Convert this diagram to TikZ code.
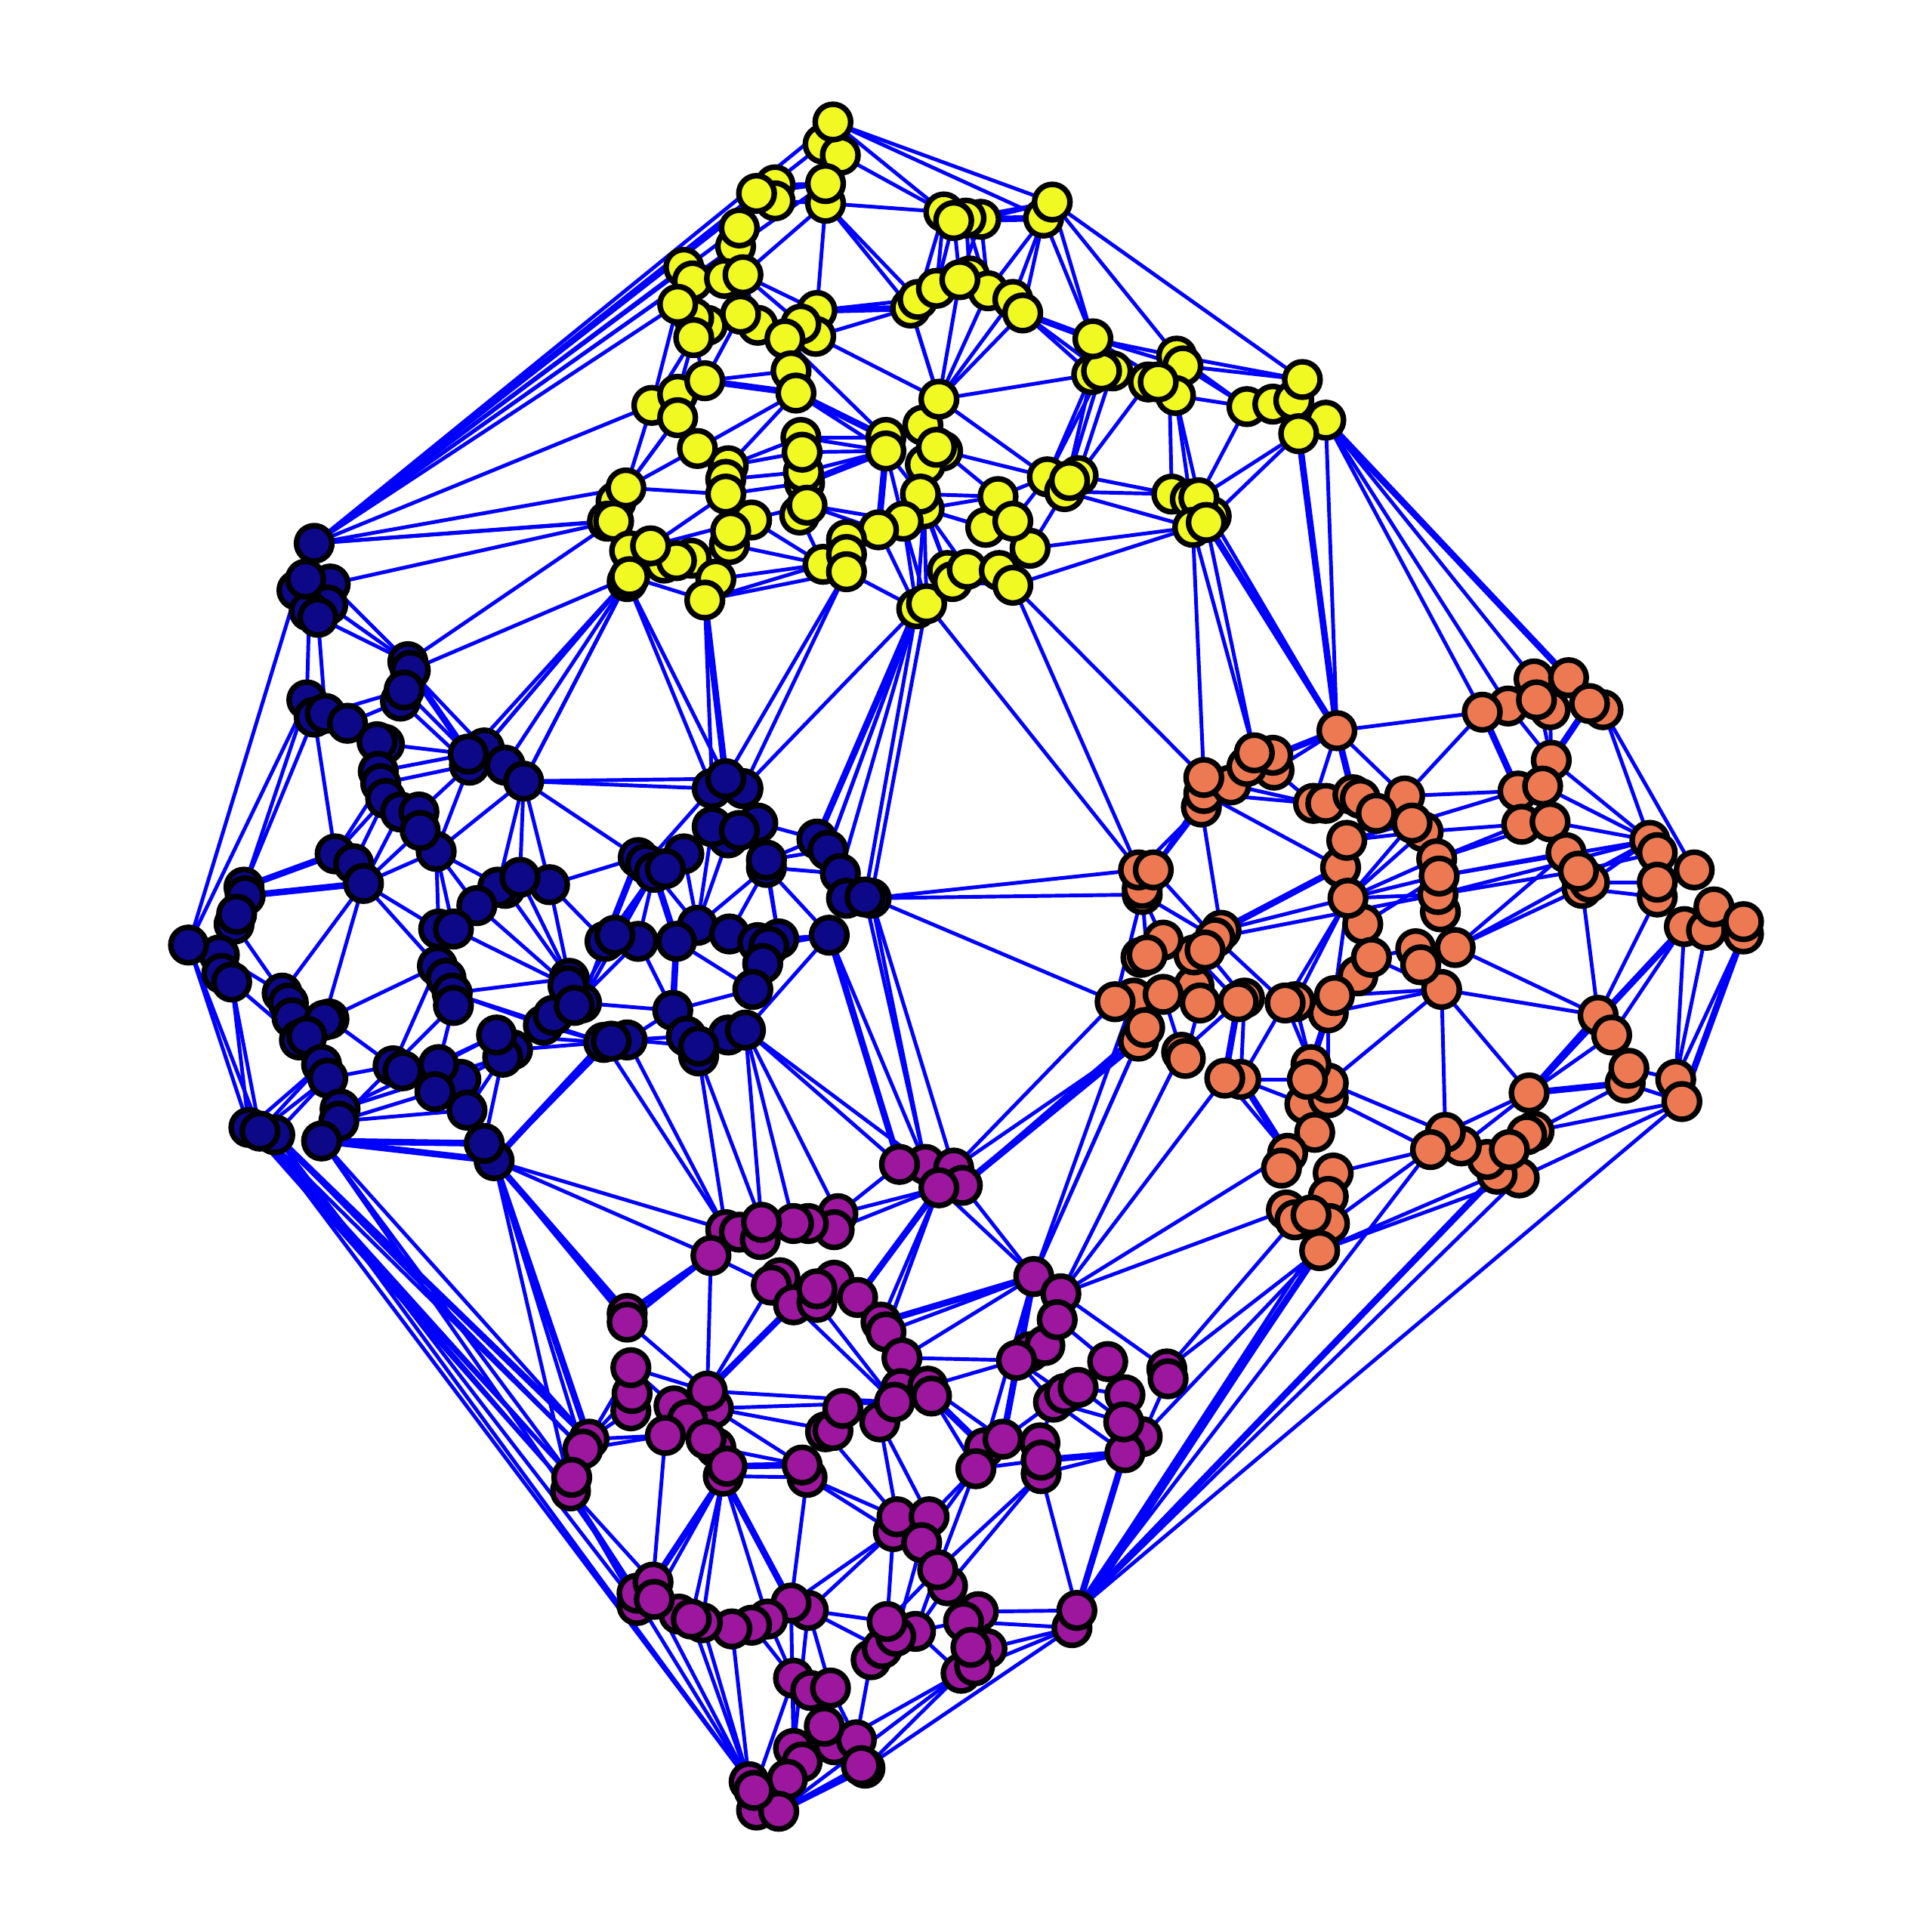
\documentclass[tikz,border=0pt]{standalone}
\pgfdeclarelayer{bg}\pgfsetlayers{bg,main}
\definecolor{cy}{RGB}{240,249,33}
\definecolor{cn}{RGB}{13,8,135}
\definecolor{cp}{RGB}{156,23,158}
\definecolor{co}{RGB}{237,121,83}
\tikzset{
 vtx/.style={circle,draw=black,line width=6.4pt,inner sep=0pt,outer sep=0pt,minimum size=1.44cm},
 vy/.style={vtx,fill=cy},vn/.style={vtx,fill=cn},vp/.style={vtx,fill=cp},vo/.style={vtx,fill=co},
 ed/.style={draw={rgb,255:red,0;green,0;blue,255},line width=4.3pt},
 edfat/.style={ed,line width=7.5pt}}
\newcommand\fan[2]{\foreach \t in {#2}{\draw[ed] (#1)--(\t);}}
\newcommand\fat[2]{\foreach \t in {#2}{\draw[edfat] (#1)--(\t);}}
\begin{document}
\begin{tikzpicture}[x=0.05cm,y=-0.05cm]
\path[use as bounding box] (0,0) rectangle (1568,1568);
\foreach \x/\y in {668/117,682/126,670/165,670/149,676/99,629/150,629/163,614/157,597/200,600/185,555/217,562/228,588/226,603/223,574/264,563/258,563/274,550/247,615/264,601/255,663/252,662/273,650/263,637/275,642/301,646/319,529/329,550/320,572/309,550/339,566/364,591/378,589/389,589/401,610/422,592/442,593/431,650/355,653/392,652/383,651/367,649/418,655/410,719/355,719/366,749/345,765/366,751/377,760/363,762/324,750/413,747/401,733/423,713/430,668/458,687/438,687/450,687/464,500/407,493/423,498/423,508/396,511/447,539/457,561/453,549/455,528/443,509/472,511/468,581/470,572/487,744/494,752/490,769/463,773/472,785/462,811/463,822/475,836/445,800/428,810/403,822/423,850/387,864/399,875/386,868/390,951/401,966/405,983/419,973/404,968/428,979/424,886/304,903/301,894/301,887/275,932/310,949/313,955/289,960/297,954/321,940/310,1012/330,1033/328,1050/325,1076/341,1054/352,1057/308,739/250,745/243,760/234,787/224,802/236,779/227,822/243,830/254,766/172,796/178,784/177,774/179,847/177,854/164}
 \node[vy] (\x x\y) at (\x,\y) {};
\foreach \x/\y in {241/479,268/474,266/491,251/496,258/501,248/470,255/441,331/537,333/544,325/569,328/560,249/568,255/582,264/579,282/587,312/604,306/602,307/626,309/636,313/648,325/659,340/659,354/691,341/674,272/693,287/701,295/717,393/607,381/621,380/612,410/621,425/634,446/718,410/721,404/720,422/712,387/735,356/754,368/754,355/784,362/794,367/806,368/816,416/852,408/858,403/840,441/832,449/824,472/814,462/794,461/800,466/816,491/764,518/764,499/759,566/751,549/764,592/758,546/820,557/841,591/840,605/836,567/857,567/849,490/846,509/844,496/845,518/696,524/701,555/693,531/708,540/705,198/720,199/727,190/750,192/742,178/775,153/767,180/790,188/797,229/806,234/814,237/826,267/827,263/828,243/844,249/841,261/864,266/875,276/900,275/910,261/926,223/921,202/915,211/918,319/865,327/869,374/876,356/864,353/886,379/901,401/942,393/928,603/640,578/640,589/632,591/680,615/668,578/671,600/674,622/704,622/698,663/681,672/690,682/709,687/729,707/729,702/728,673/759,615/765,632/762,624/768,619/782,611/803}
 \node[vn] (\x x\y) at (\x,\y) {};
\foreach \x/\y in {751/945,730/945,774/948,781/962,762/964,680/985,677/998,656/993,644/993,589/998,600/1000,617/1006,618/992,577/1019,633/1037,626/1043,644/1059,677/1039,663/1057,663/1046,696/1053,715/1073,719/1081,732/1102,509/1066,509/1073,512/1145,513/1131,512/1110,547/1141,579/1143,574/1129,558/1152,581/1175,573/1168,540/1165,587/1198,590/1190,655/1199,651/1189,670/1162,676/1161,684/1143,714/1154,731/1127,753/1125,756/1133,726/1138,839/1036,861/1050,836/1097,848/1092,858/1071,825/1104,899/1105,855/1138,864/1131,875/1126,913/1132,927/1166,913/1179,912/1154,947/1111,948/1119,799/1175,792/1192,814/1168,844/1171,845/1196,845/1185,478/1168,473/1176,463/1210,464/1199,725/1243,728/1231,754/1231,748/1252,769/1287,761/1274,794/1308,782/1316,801/1338,780/1358,791/1352,788/1337,870/1321,874/1307,707/1347,716/1338,743/1324,727/1328,720/1316,656/1307,642/1301,623/1314,610/1319,594/1322,570/1317,551/1310,561/1314,517/1303,517/1293,530/1284,531/1298,644/1362,658/1372,674/1370,677/1416,695/1412,669/1401,644/1419,651/1430,702/1435,699/1433,639/1444,614/1469,632/1470,608/1446,612/1453}
 \node[vp] (\x x\y) at (\x,\y) {};
\foreach \x/\y in {1085/593,1224/573,1203/578,1245/551,1273/550,1258/576,1247/568,1301/576,1290/571,1259/617,1232/642,1235/669,1252/638,1258/667,1271/692,1284/721,1290/716,1281/707,1339/682,1345/692,1345/728,1345/716,1375/706,1367/752,1385/755,1391/736,1415/758,1415/748,1297/824,1308/840,1319/879,1322/867,1360/876,1365/894,1241/887,1245/918,1239/921,1233/956,1215/953,1207/941,1186/930,1173/919,1161/933,1225/933,975/655,977/644,999/637,1034/625,1033/613,1012/622,1018/611,977/631,1066/652,1076/652,1098/645,1140/646,1104/648,1117/660,1155/675,1146/668,1088/704,1093/682,1166/697,1169/740,1167/726,1168/711,1106/750,1094/729,1102/792,1113/777,1149/770,1170/803,1153/783,1181/769,1078/822,1083/808,1051/813,1043/814,1010/810,1005/813,920/810,969/800,974/814,924/845,929/834,944/807,905/813,959/854,962/859,1007/876,994/875,1059/896,1078/891,1078/879,1064/864,1061/876,1067/919,1045/936,1040/948,1082/952,1078/971,1044/982,1051/990,1079/993,1064/986,1071/1015,991/755,986/761,969/775,978/771,944/763,926/777,931/775,927/726,927/721,924/706,936/706}
 \node[vo] (\x x\y) at (\x,\y) {};
\begin{pgfonlayer}{bg}
% top fan
\fan{255x441}{676x99,668x117,670x149,629x150,614x157,600x185,597x200,555x217,550x247,529x329,508x396,493x423,498x423}
\fan{268x474}{498x423}\fan{331x537}{498x423}\fan{333x544}{511x468}
\fan{511x468}{380x612,393x607,410x621,425x634,381x621}\fan{509x472}{425x634,578x640,589x632}
\fan{676x99}{766x172,854x164,847x177}\fan{682x126}{766x172}
\fan{670x165}{766x172,629x163,603x223,663x252,739x250,745x243}\fan{670x149}{629x150,614x157}
\fan{766x172}{745x243,760x234}\fan{774x179}{779x227,760x234}\fan{784x177}{787x224,802x236}\fan{796x178}{802x236,779x227,847x177}
\fan{854x164}{784x177,796x178,887x275,955x289,1057x308}
\fan{847x177}{774x179,796x178,802x236,822x243,830x254,887x275}
\fan{830x254}{887x275,894x301,886x304}
\fan{887x275}{955x289,960x297,949x313}\fan{894x301}{932x310}\fan{903x301}{940x310}
\fan{762x324}{886x304,850x387,739x250,779x227,802x236,822x243,830x254,662x273}
\fan{955x289}{1057x308,1012x330}\fan{960x297}{1057x308,1012x330}\fan{954x321}{1012x330,966x405,973x404}
\fan{1012x330}{973x404}\fan{1054x352}{973x404,979x424,1085x593}\fan{949x313}{951x401}
\fan{932x310}{875x386}\fan{886x304}{850x387,864x399}\fan{894x301}{864x399,850x387}\fan{903x301}{875x386}
\fan{875x386}{951x401}\fan{864x399}{951x401,968x428}\fan{836x445}{968x428,864x399}\fan{822x475}{968x428,773x472,924x706,977x631}
\fan{765x366}{850x387,810x403}\fan{747x401}{810x403}\fan{750x413}{810x403,800x428,744x494,752x490,769x463,773x472,785x462}
\fan{810x403}{850x387}\fan{822x423}{850x387}
\fan{752x490}{924x706}\fan{968x428}{977x631,1018x611}\fan{979x424}{1018x611,1085x593}\fan{983x419}{1085x593}
\fan{1076x341}{1085x593,1203x578,1245x551,1273x550,1224x573}
% upper yellow
\fan{550x247}{529x329}\fan{563x274}{529x329,550x320,572x309}\fan{601x255}{572x309}
\fan{603x223}{663x252,650x263,615x264}
\fan{572x309}{642x301,646x319}\fan{529x329}{508x396}\fan{550x339}{508x396,500x407}\fan{566x364}{508x396,646x319}
\fan{591x378}{646x319,650x355,651x367}\fan{589x389}{652x383}\fan{589x401}{653x392,508x396,528x443}
\fan{646x319}{719x355,719x366}\fan{637x275}{719x355}\fan{662x273}{739x250}\fan{663x252}{739x250,745x243}
\fan{739x250}{762x324}
\fan{650x355}{719x366,719x355}\fan{651x367}{719x366}\fan{652x383}{719x366}\fan{653x392}{719x366}
\fan{719x366}{747x401,713x430,733x423}\fan{655x410}{713x430,528x443,733x423}\fan{649x418}{668x458}
\fan{592x442}{668x458}\fan{610x422}{668x458}\fan{581x470}{668x458}\fan{572x487}{687x464,668x458,511x468,578x640,589x632}
\fan{498x423}{528x443}\fan{687x464}{744x494,589x632,603x640}\fan{733x423}{744x494,752x490}\fan{713x430}{744x494}
\fan{747x401}{769x463}\fan{811x463}{785x462}\fan{744x494}{769x463,603x640,663x681,672x690,682x709}
\fan{800x428}{750x413}\fan{752x490}{707x729}
% navy-yellow down
\fan{663x681}{744x494}\fan{672x690}{744x494}\fan{702x728}{744x494}
\fan{425x634}{589x632,578x640,518x696,354x691,404x720,422x712,446x718}
\fan{446x718}{518x696,491x764,462x794}\fan{524x701}{578x640}\fan{578x671}{566x751,555x693}\fan{591x680}{566x751}
\fan{566x751}{622x704}\fan{592x758}{622x704}\fan{632x762}{622x698,622x704}\fan{622x704}{673x759,682x709}\fan{622x698}{663x681,672x690}
\fan{615x668}{663x681}\fan{555x693}{566x751}\fan{531x708}{566x751,549x764,491x764}\fan{518x696}{491x764}\fan{499x759}{531x708}\fan{518x764}{531x708}
\fan{472x814}{491x764,546x820,531x708}\fan{466x816}{518x764,499x759}
\fan{518x764}{546x820}\fan{549x764}{546x820,611x803}\fan{546x820}{611x803,509x844}\fan{509x844}{557x841,567x849}
\fan{441x832}{490x846,367x806}\fan{403x840}{490x846}\fan{416x852}{490x846}
\fan{624x768}{673x759}\fan{632x762}{673x759}\fan{605x836}{673x759,730x945,680x985,618x992,644x993,751x945}
\fan{673x759}{730x945,751x945}\fan{707x729}{751x945,774x948,924x706,927x726,905x813}\fan{702x728}{751x945}
\fan{567x857}{589x998,618x992}\fan{490x846}{589x998,401x942,367x806}\fan{509x844}{589x998}\fan{496x845}{401x942}
\fan{401x942}{589x998,577x1019,509x1066,509x1073,478x1168,473x1176,463x1210}
\fan{774x948}{905x813,924x845}\fan{781x962}{924x845,929x834,839x1036}\fan{762x964}{839x1036,680x985,677x998,696x1053,715x1073,719x1081}
\fan{680x985}{730x945}
% right
\fan{839x1036}{920x810,929x834,924x845}\fan{861x1050}{959x854,994x875,1045x936,1044x982}
\fan{1085x593}{1203x578,1012x622,1034x625,1066x652,1098x645,1140x646}
\fan{1203x578}{1140x646,1232x642}\fan{1224x573}{1259x617}\fan{1245x551}{1259x617}\fan{1258x576}{1259x617}\fan{1290x571}{1259x617}
\fan{1301x576}{1339x682,1375x706}\fan{1140x646}{1232x642}\fan{1146x668}{1232x642,1093x682}\fan{1155x675}{1235x669}\fan{1166x697}{1235x669,1258x667,1094x729}
\fan{1259x617}{1339x682}\fan{1252x638}{1339x682}\fan{1258x667}{1339x682}
\fan{1168x711}{1339x682,1271x692,1106x750,1094x729}\fan{1167x726}{1339x682,1281x707,1094x729}\fan{1181x769}{1339x682,1284x721,1271x692,1297x824}
\fan{1281x707}{1345x692}\fan{1284x721}{1339x682,1345x728}\fan{1290x716}{1345x716}\fan{1284x721}{1297x824}
\fan{1170x803}{1297x824,1173x919,1241x887,1078x879,1083x808,1078x822,1113x777}
\fan{1297x824}{1345x728,1241x887}\fan{1241x887}{1367x752,1319x879,1173x919,1186x930}\fan{1308x840}{1367x752,1241x887}
\fan{1360x876}{1367x752,1385x755,1415x758}\fan{1365x894}{1415x758,1245x918,1233x956,1319x879}\fan{1322x867}{1360x876}
\fan{1245x918}{1319x879}\fan{1071x1015}{1215x953,1233x956}\fan{1079x993}{1161x933}\fan{1082x952}{1161x933}
\fan{1078x879}{1173x919}\fan{1078x891}{1161x933}\fan{1007x876}{1061x876,1059x896,1045x936,1043x814}\fan{994x875}{1045x936}
\fan{1113x777}{1149x770}\fan{1094x729}{1146x668,1155x675}
\fan{986x761}{1167x726,936x706,927x726,1043x814}\fan{991x755}{1094x729,1088x704,975x655}\fan{977x644}{1088x704,1066x652,936x706}\fan{999x637}{1066x652}\fan{1034x625}{1066x652}
\fan{975x655}{936x706,924x706}\fan{927x726}{905x813,931x775,944x763}
\fan{969x775}{1005x813}\fan{978x771}{1010x810}\fan{1051x813}{1094x729,1064x864}\fan{1083x808}{1094x729}\fan{1043x814}{1094x729,1064x864}
\fan{1005x813}{994x875,959x854}\fan{1010x810}{1007x876}\fan{1078x822}{1064x864,1078x879}\fan{944x807}{959x854}\fan{974x814}{962x859}
\fan{1093x682}{1155x675}\fan{1345x716}{1290x716}
% purple
\fan{577x1019}{626x1043,574x1129,509x1066,509x1073}\fan{626x1043}{574x1129}\fan{644x1059}{574x1129,726x1138}\fan{663x1057}{726x1138}\fan{715x1073}{726x1138,839x1036}\fan{719x1081}{726x1138,839x1036,762x964}
\fan{696x1053}{762x964}\fan{732x1102}{839x1036,825x1104}\fan{753x1125}{825x1104,814x1168}
\fan{839x1036}{814x1168,799x1175}\fan{861x1050}{947x1111}\fan{858x1071}{899x1105}\fan{825x1104}{855x1138,864x1131}\fan{814x1168}{855x1138,844x1171}\fan{844x1171}{855x1138}
\fan{855x1138}{913x1179,912x1154}\fan{875x1126}{913x1132,912x1154}\fan{927x1166}{948x1119,1071x1015}\fan{947x1111}{1071x1015,1051x990}
\fan{845x1185}{913x1179}\fan{845x1196}{913x1179,874x1307,769x1287,761x1274}\fan{913x1179}{874x1307,870x1321}
\fan{792x1192}{748x1252,761x1274,754x1231,845x1185}\fan{874x1307}{794x1308,1161x933,1071x1015,1079x993,1365x894,1215x953,1233x956}
\fan{870x1321}{782x1316,801x1338,780x1358,702x1435,1071x1015}\fan{702x1435}{780x1358}\fan{677x1416}{780x1358}
\fan{632x1470}{702x1435,699x1433,780x1358}\fan{743x1324}{780x1358,782x1316,761x1274,769x1287}\fan{720x1316}{761x1274,725x1243}\fan{727x1328}{748x1252}
\fan{656x1307}{720x1316,716x1338,725x1243,644x1419,674x1370}\fan{642x1301}{725x1243,655x1199,644x1419}
\fan{655x1199}{728x1231,725x1243,587x1198}\fan{587x1198}{642x1301,623x1314,570x1317,561x1314,531x1298,530x1284}\fan{540x1165}{530x1284,478x1168,473x1176}
\fan{590x1190}{651x1189}\fan{574x1129}{726x1138,509x1073,512x1110}\fan{579x1143}{726x1138,676x1161,651x1189}\fan{581x1175}{651x1189}
\fan{512x1110}{547x1141,478x1168}\fan{512x1145}{478x1168}\fan{513x1131}{478x1168}
\fan{478x1168}{223x921,401x942}\fan{473x1176}{223x921,211x918}\fan{464x1199}{211x918,202x915,261x926}\fan{463x1210}{202x915,517x1293,530x1284,608x1446,517x1303}
\fan{531x1298}{608x1446}\fan{561x1314}{608x1446}\fan{570x1317}{608x1446}\fan{594x1322}{608x1446}
\fan{610x1319}{644x1362}\fan{623x1314}{644x1362}\fan{644x1362}{612x1453,644x1419}\fan{707x1347}{695x1412}\fan{674x1370}{695x1412}
\fan{756x1133}{792x1192,799x1175}\fan{714x1154}{728x1231,754x1231}\fan{670x1162}{728x1231}
\fan{223x921}{478x1168,517x1303,608x1446}\fan{211x918}{608x1446,463x1210}\fan{261x926}{478x1168,517x1293}
% navy left
\fan{241x479}{153x767}\fan{249x568}{153x767,198x720}\fan{255x582}{198x720,272x693}
\fan{251x496}{249x568}\fan{258x501}{264x579,331x537}\fan{268x474}{331x537}\fan{266x491}{331x537}
\fan{328x560}{264x579,380x612}\fan{325x569}{282x587,381x621}\fan{333x544}{380x612,393x607}
\fan{312x604}{380x612}\fan{307x626}{380x612}\fan{309x636}{381x621,272x693}\fan{313x648}{272x693,287x701}
\fan{325x659}{295x717}\fan{341x674}{295x717}\fan{381x621}{340x659,354x691}
\fan{199x727}{295x717}\fan{198x720}{272x693}\fan{190x750}{229x806}\fan{178x775}{229x806}\fan{229x806}{295x717}\fan{263x828}{295x717,355x784}
\fan{295x717}{356x754,355x784,354x691}\fan{319x865}{355x784,368x816,267x827}\fan{368x816}{356x864}
\fan{354x691}{356x754,368x754,387x735,410x721}
\fan{422x712}{462x794}\fan{410x721}{462x794}\fan{387x735}{461x800}\fan{368x754}{461x800}\fan{367x806}{462x794}
\fan{408x858}{393x928,379x901}\fan{356x864}{403x840}\fan{353x886}{408x858}
\fan{276x900}{403x840,408x858}\fan{275x910}{353x886,319x865,379x901}\fan{261x926}{393x928,401x942}
\fan{202x915}{261x864}\fan{211x918}{261x864,266x875}\fan{223x921}{266x875}\fan{266x875}{319x865}
\fan{188x797}{202x915,211x918,243x844}\fan{153x767}{202x915,211x918}
% bundles that read as one heavy line
\fat{401x942}{490x846,509x1066,478x1168}\fat{223x921}{478x1168}\fat{663x681}{744x494}\fat{673x759}{730x945}
\fat{1054x352}{1085x593}\fat{979x424}{1085x593}\fat{1076x341}{1273x550}\fat{830x254}{887x275}\fat{847x177}{796x178}
\fat{663x252}{739x250}\fat{572x309}{646x319}\fat{646x319}{719x355}\fat{653x392}{719x366}\fat{719x366}{713x430}
\fat{333x544}{380x612}\fat{577x1019}{509x1066}\fat{644x1059}{574x1129}\fat{839x1036}{814x1168}\fat{715x1073}{839x1036}
\fat{874x1307}{1071x1015,1215x953}\fat{587x1198}{642x1301,530x1284}\fat{590x1190}{651x1189}\fat{632x1470}{702x1435}
\fat{1241x887}{1367x752,1319x879}\fat{1297x824}{1241x887}\fat{991x755}{1088x704}\fat{1290x571}{1259x617}\fat{781x962}{924x845}
\fat{1365x894}{1415x758}\fat{1085x593}{1098x645,1012x622}\fat{261x926}{401x942,393x928}\fat{199x727}{295x717}\fat{198x720}{272x693}
\fat{572x487}{589x632}\fat{518x696}{491x764}\fat{531x708}{549x764}\fat{549x764}{546x820}\fat{1005x813}{994x875}\fat{1078x822}{1064x864}
\fat{1203x578}{1232x642}\fat{1007x876}{1045x936}\fat{913x1179}{874x1307}\fat{845x1185}{913x1179}\fat{756x1133}{799x1175}\fat{762x964}{696x1053}
\end{pgfonlayer}
\end{tikzpicture}
\end{document}
